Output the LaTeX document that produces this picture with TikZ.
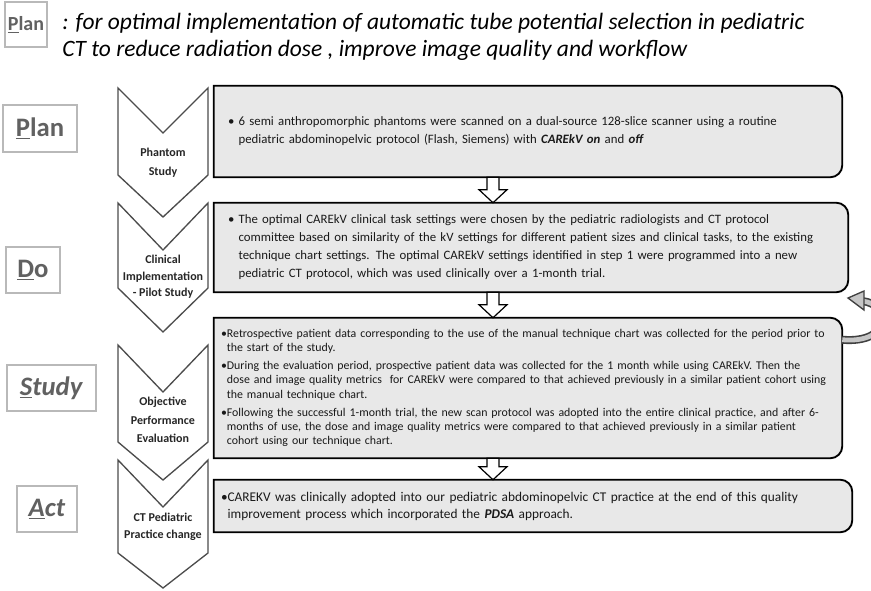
\documentclass[tikz,border=0pt]{standalone}
\usepackage{fontspec}
\setmainfont{Carlito}
\usetikzlibrary{calc}
\setlength{\parindent}{0pt}

\pgfdeclarelayer{background}
\pgfsetlayers{background,main}

\tikzstyle{stage}=[draw=gray!55, line width=1.3pt, fill=white, text=black!62,
                   font=\fontsize{20}{20}\selectfont\bfseries, inner sep=0pt]
\tikzstyle{chevron}=[draw=black!70, line width=1pt, fill=white]
\tikzstyle{chevlabel}=[align=center, text=black!85,
                       font=\fontsize{9}{14}\selectfont\bfseries]
\tikzstyle{infobox}=[align=left, inner ysep=0pt, text=black!90]
\tikzstyle{boxline}=[draw=black, line width=1.4pt, fill=black!9]
\tikzstyle{blockarrow}=[draw=black, line width=0.9pt, fill=white]

% frame with rounded right corners round a box node
\newcommand{\roundright}[1]{%
  \begin{pgfonlayer}{background}
  \draw[boxline] (#1.south west) -- (#1.north west)
     -- ([xshift=-9pt]#1.north east) arc[start angle=90, end angle=0, radius=9pt]
     -- ([yshift=9pt]#1.south east) arc[start angle=0, end angle=-90, radius=9pt]
     -- cycle;
  \end{pgfonlayer}}

% hollow block arrow from one box down to the next
\newcommand{\blockdown}[2]{%
  \draw[blockarrow] let \p1=(#1.south), \p2=(#2.north), \p3=(arrx) in
    ({\x3-4.5pt},\y1) -- ({\x3+4.5pt},\y1) -- ({\x3+4.5pt},{\y2+9.75pt})
    -- ({\x3+10.5pt},{\y2+9.75pt}) -- (\x3,\y2) -- ({\x3-10.5pt},{\y2+9.75pt})
    -- ({\x3-4.5pt},{\y2+9.75pt}) -- cycle;}

\begin{document}
\begin{tikzpicture}[x=0.75pt, y=-0.75pt]
  \useasboundingbox (0,0) rectangle (871,590);
  \begin{pgfonlayer}{background}
    \fill[white] (0,0) rectangle (871,590);
  \end{pgfonlayer}

  % aim
  \node (plan0) at (26,24.5) [stage, minimum width=31.5pt, minimum height=33.75pt,
        font=\fontsize{15}{15}\selectfont\bfseries] {\underline{P}lan};
  \node (aim) at (62,13) [anchor=north west, align=left, inner sep=0pt,
        font=\fontsize{17.6}{20.5}\selectfont\itshape]
        {: for optimal implementation of automatic tube potential selection in pediatric\\
         CT to reduce radiation dose , improve image quality and workflow};

  % PDSA stages
  \node (plan)  at (40,128.5) [stage, minimum width=55.5pt, minimum height=35.25pt] {\underline{P}lan};
  \node (do)    at (33,270)   [stage, minimum width=40.5pt, minimum height=34.5pt] {\underline{D}o};
  \node (study) at (51.5,388) [stage, minimum width=66.75pt, minimum height=34.5pt] {\textit{\underline{S}tudy}};
  \node (act)   at (47,509)   [stage, minimum width=45pt, minimum height=34.5pt] {\textit{\underline{A}ct}};

  % chevrons
  \foreach \t/\n/\b/\p in {88/133/175/217, 203/250/288/332, 345/392/442/480, 460/507/553/588}
    \draw [chevron] (118,\t) -- (163,\n) -- (208,\t) -- (208,\b) -- (163,\p) -- (118,\b) -- cycle;

  \node (phantom)   at (163,163) [chevlabel] {Phantom\\Study};
  \node (pilot)     at (163,277) [chevlabel, font=\fontsize{9}{12.5}\selectfont\bfseries]
        {Clinical\\Implementation\\- Pilot Study};
  \node (objective) at (163,420) [chevlabel] {Objective\\Performance\\Evaluation};
  \node (practice)  at (163,527) [chevlabel, font=\fontsize{9}{13}\selectfont\bfseries]
        {CT Pediatric\\Practice change};

  % boxes
  \node (b1) at (528,131.5) [infobox, text width=450pt, inner xsep=10.5pt, minimum height=68.25pt,
        font=\fontsize{9.6}{13.5}\selectfont]
        {• 6 semi anthropomorphic phantoms were scanned on a dual-source 128-slice scanner using a routine\\
         \hphantom{• }pediatric abdominopelvic protocol (Flash, Siemens) with \textbf{\textit{CAREkV on}} and \textbf{\textit{off}}};
  \roundright{b1}

  \node (b2) at (531,247.5) [infobox, text width=454.5pt, inner xsep=10.5pt, minimum height=66.75pt,
        font=\fontsize{9.6}{13.5}\selectfont]
        {• The optimal CAREkV clinical task settings were chosen by the pediatric radiologists and CT protocol\\
         \hphantom{• }committee based on similarity of the kV settings for different patient sizes and clinical tasks, to the existing\\
         \hphantom{• }technique chart settings. The optimal CAREkV settings identified in step 1 were programmed into a new\\
         \hphantom{• }pediatric CT protocol, which was used clinically over a 1-month trial.};
  \roundright{b2}

  \node (b3) at (528,388) [infobox, text width=460.5pt, inner xsep=5.25pt, minimum height=105pt,
        font=\fontsize{8.9}{10.8}\selectfont]
        {\mbox{•Retrospective patient data corresponding to the use of the manual technique chart was collected for the period prior to}\\
         \hphantom{•}the start of the study.\\[2.5pt]
         \mbox{•During the evaluation period, prospective patient data was collected for the 1 month while using CAREkV. Then the}\\
         \mbox{\hphantom{•}dose and image quality metrics\ \ for CAREkV were compared to that achieved previously in a similar patient cohort using}\\
         \hphantom{•}the manual technique chart.\\[2.5pt]
         \mbox{•Following the successful 1-month trial, the new scan protocol was adopted into the entire clinical practice, and after 6-}\\
         \mbox{\hphantom{•}months of use, the dose and image quality metrics were compared to that achieved previously in a similar patient}\\
         \hphantom{•}cohort using our technique chart.};
  \roundright{b3}

  \node (b4) at (533,506) [infobox, text width=468pt, inner xsep=5.25pt, minimum height=39pt,
        font=\fontsize{10}{12.75}\selectfont]
        {•CAREKV was clinically adopted into our pediatric abdominopelvic CT practice at the end of this quality\\
         \hphantom{•}improvement process which incorporated the \textbf{\textit{PDSA}} approach.};
  \roundright{b4}

  % arrows between boxes
  \coordinate (arrx) at (493,0);
  \blockdown{b1}{b2}
  \blockdown{b2}{b3}
  \blockdown{b3}{b4}

  % loop back from study to do
  \coordinate (loopstart) at ($(b3.north east)+(0,22)$);
  \coordinate (loopend) at (848,298);
  \draw[line width=6pt, black!75] (loopstart) .. controls (892,344) and (892,304) .. (862,301);
  \draw[line width=3.6pt, gray!45] (loopstart) .. controls (892,344) and (892,304) .. (862,301);
  \filldraw[fill=gray!45, draw=black!75, line width=1pt] (loopend) -- (864,291) -- (864,310) -- cycle;
\end{tikzpicture}
\end{document}
